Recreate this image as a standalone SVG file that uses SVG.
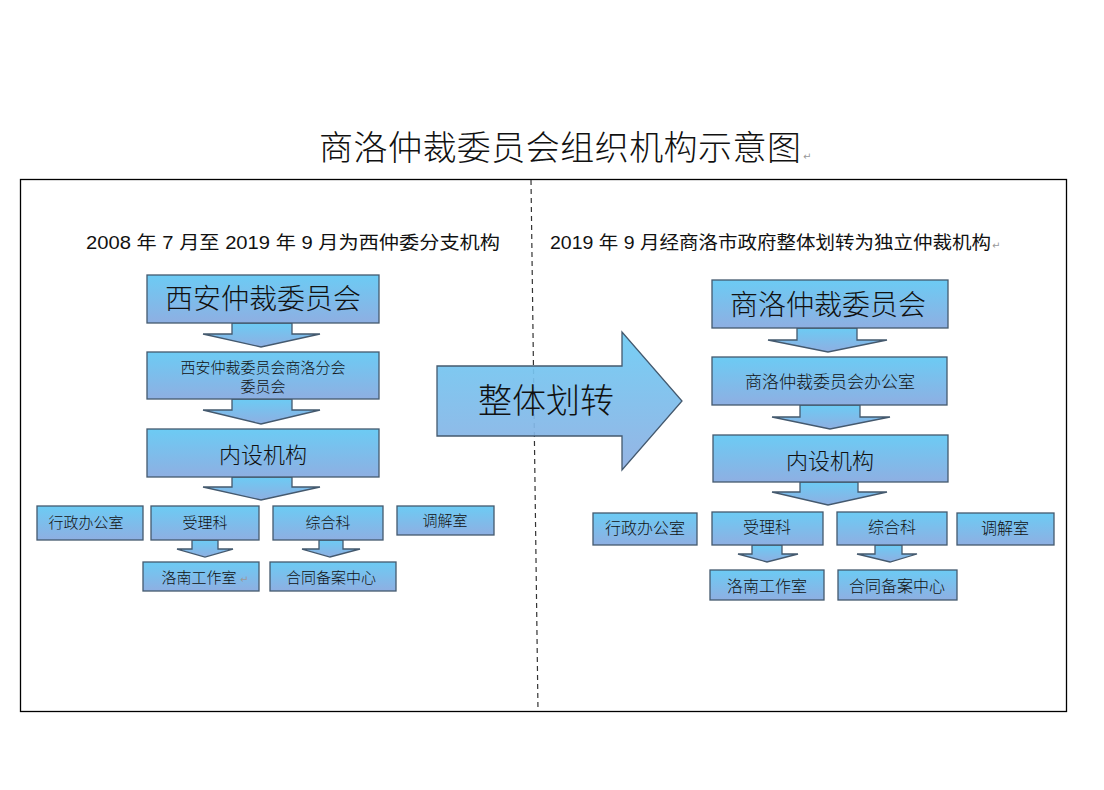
<svg xmlns="http://www.w3.org/2000/svg" width="1104" height="790" viewBox="0 0 1104 790">
<defs>
<linearGradient id="g" x1="0" y1="0" x2="0" y2="1">
<stop offset="0" stop-color="#6ccbf4"/>
<stop offset="1" stop-color="#8eafe2"/>
</linearGradient>
<style>
.b{fill:url(#g);stroke:#44596e;stroke-width:1.3}
.t{font-family:"Noto Sans CJK SC","Liberation Sans",sans-serif;fill:#111;text-anchor:middle;font-weight:300}
.s{font-family:"Liberation Sans","Noto Sans CJK SC",sans-serif;fill:#111;font-size:18.5px}
.pm{font-family:"DejaVu Sans",sans-serif;fill:#999;font-size:10px}
</style>
</defs>
<rect width="1104" height="790" fill="#fff"/>
<text class="t" x="560" y="160" font-size="34" textLength="482" lengthAdjust="spacing">商洛仲裁委员会组织机构示意图</text>
<text class="pm" x="803" y="160">↵</text>
<rect x="20.5" y="179.5" width="1046" height="532" fill="none" stroke="#000" stroke-width="1.3"/>
<g id="connectors">
<line x1="531" y1="180" x2="538" y2="711" stroke="#333" stroke-width="1.2" stroke-dasharray="5,4"/>
<path class="b" d="M232,323 H292 V334 H320 L261,347 L203,334 H232 Z"/>
<path class="b" d="M232,399 H292 V410 H320 L261,424 L203,410 H232 Z"/>
<path class="b" d="M232,477 H292 V487 H320 L261,500 L203,487 H232 Z"/>
<path class="b" d="M192,540 H218 V549 H233 L205,557 L177,549 H192 Z"/>
<path class="b" d="M319,540 H343 V549 H360 L330,557 L302,549 H319 Z"/>
<path class="b" d="M797,328 H857 V340 H887 L828,352 L768,340 H797 Z"/>
<path class="b" d="M800,405 H860 V417 H890 L830,429 L772,417 H800 Z"/>
<path class="b" d="M800,482 H858 V492 H887 L828,505 L772,492 H800 Z"/>
<path class="b" d="M752,545 H782 V554 H798 L767,562 L738,554 H752 Z"/>
<path class="b" d="M875,545 H902 V554 H917 L890,562 L857,554 H875 Z"/>
<g id="transfer">
<path class="b" d="M437,366 H622 V332 L682,401 L622,470 V436 H437 Z" fill-opacity="0.93"/>
<text class="t" x="546" y="413" font-size="34">整体划转</text>
</g>
</g>
<text class="s" x="86" y="249" textLength="414" lengthAdjust="spacingAndGlyphs">2008 年 7 月至 2019 年 9 月为西仲委分支机构</text>
<text class="s" x="550" y="249" textLength="441" lengthAdjust="spacingAndGlyphs">2019 年 9 月经商洛市政府整体划转为独立仲裁机构</text>
<text class="pm" x="992" y="249">↵</text>
<g id="n1"><rect class="b" x="147" y="275" width="232" height="48"/><text class="t" x="263" y="309" font-size="28">西安仲裁委员会</text></g>
<g id="n2"><rect class="b" x="147" y="352" width="232" height="47"/><text class="t" x="263" y="373" font-size="15">西安仲裁委员会商洛分会</text><text class="t" x="263" y="392" font-size="15">委员会</text></g>
<g id="n3"><rect class="b" x="147" y="429" width="232" height="48"/><text class="t" x="263" y="463" font-size="22">内设机构</text></g>
<g id="n4"><rect class="b" x="37" y="506" width="106" height="34"/><text class="t" x="86" y="528" font-size="15">行政办公室</text></g>
<g id="n5"><rect class="b" x="151" y="506" width="108" height="34"/><text class="t" x="205" y="528" font-size="15">受理科</text></g>
<g id="n6"><rect class="b" x="273" y="506" width="110" height="34"/><text class="t" x="328" y="528" font-size="15">综合科</text></g>
<g id="n7"><rect class="b" x="397" y="506" width="97" height="29"/><text class="t" x="445" y="526" font-size="15">调解室</text></g>
<g id="n8"><rect class="b" x="143" y="562" width="116" height="29"/><text class="t" x="199" y="583" font-size="15">洛南工作室</text><text class="pm" x="240" y="583">↵</text></g>
<g id="n9"><rect class="b" x="270" y="562" width="126" height="29"/><text class="t" x="331" y="583" font-size="15">合同备案中心</text></g>
<g id="m1"><rect class="b" x="712" y="280" width="236" height="48"/><text class="t" x="828" y="315" font-size="28">商洛仲裁委员会</text></g>
<g id="m2"><rect class="b" x="712" y="357" width="235" height="48"/><text class="t" x="830" y="388" font-size="17">商洛仲裁委员会办公室</text></g>
<g id="m3"><rect class="b" x="713" y="435" width="235" height="47"/><text class="t" x="830" y="469" font-size="22">内设机构</text></g>
<g id="m4"><rect class="b" x="593" y="513" width="104" height="32"/><text class="t" x="645" y="534" font-size="16">行政办公室</text></g>
<g id="m5"><rect class="b" x="712" y="512" width="111" height="33"/><text class="t" x="767" y="533" font-size="16">受理科</text></g>
<g id="m6"><rect class="b" x="837" y="512" width="110" height="33"/><text class="t" x="892" y="533" font-size="16">综合科</text></g>
<g id="m7"><rect class="b" x="957" y="513" width="97" height="32"/><text class="t" x="1005" y="534" font-size="16">调解室</text></g>
<g id="m8"><rect class="b" x="710" y="570" width="114" height="30"/><text class="t" x="767" y="592" font-size="16">洛南工作室</text></g>
<g id="m9"><rect class="b" x="838" y="570" width="119" height="30"/><text class="t" x="897" y="592" font-size="16">合同备案中心</text></g>
</svg>
